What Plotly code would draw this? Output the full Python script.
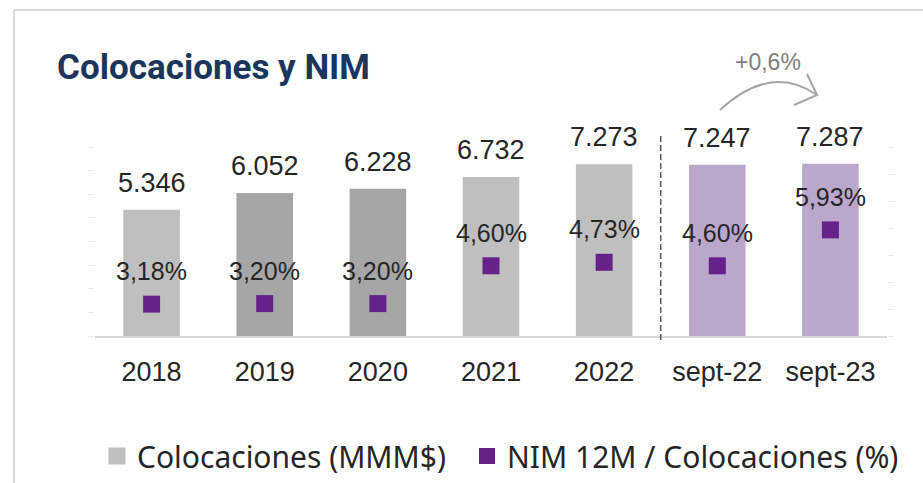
import plotly.graph_objects as go

# ---------------- data ----------------
categories = ["2018", "2019", "2020", "2021", "2022", "sept-22", "sept-23"]
colocaciones = [5346, 6052, 6228, 6732, 7273, 7247, 7287]
colocaciones_labels = ["5.346", "6.052", "6.228", "6.732", "7.273", "7.247", "7.287"]
nim = [3.18, 3.20, 3.20, 4.60, 4.73, 4.60, 5.93]
nim_labels = ["3,18%", "3,20%", "3,20%", "4,60%", "4,73%", "4,60%", "5,93%"]
bar_colors = ["#BFBFBF", "#A6A6A6", "#A6A6A6", "#BFBFBF", "#BFBFBF", "#BCA7CC", "#BCA7CC"]
growth_label = "+0,6%"

# ---------------- geometry helpers (pixels -> paper) ----------------
W, H = 923, 483
L, R, T, B = 95, 36, 147, 147
PW, PH = W - L - R, H - T - B


def px(x):
    return (x - L) / PW


def py(y):
    return (H - B - y) / PH


NUM_FONT = "Liberation Sans, Arial, sans-serif"
TXT = "#262626"
LEG_FONT = dict(family="Noto Sans, sans-serif", size=30, color=TXT)

fig = go.Figure()
fig.add_trace(go.Bar(
    x=categories, y=colocaciones, name="Colocaciones (MMM$)",
    marker=dict(color=bar_colors, line=dict(width=0)),
    yaxis="y", showlegend=False,
))
# legend entry for the bars (larger swatch)
fig.add_trace(go.Bar(
    x=[categories[0]], y=[None], name="Colocaciones (MMM$)",
    marker=dict(color=bar_colors[0], line=dict(width=5, color=bar_colors[0])),
    yaxis="y", showlegend=True, legend="legend",
))
fig.add_trace(go.Scatter(
    x=categories, y=nim, name="NIM 12M / Colocaciones (%)",
    mode="markers", marker=dict(symbol="square", size=17, color="#66228A"),
    yaxis="y2", legend="legend2",
))

annotations = []
for i, (v, t) in enumerate(zip(colocaciones, colocaciones_labels)):
    annotations.append(dict(x=i, y=v, xref="x", yref="y", text=t, showarrow=False,
                            yanchor="middle", yshift=27,
                            font=dict(family=NUM_FONT, size=27, color=TXT)))
for i, (v, t) in enumerate(zip(nim, nim_labels)):
    annotations.append(dict(x=i, y=v, xref="x", yref="y2", text=t, showarrow=False,
                            yanchor="middle", yshift=33,
                            font=dict(family=NUM_FONT, size=25, color=TXT)))
# title
annotations.append(dict(x=px(55), y=py(67), xref="paper", yref="paper",
                        text="<b>Colocaciones y NIM</b>", showarrow=False,
                        xanchor="left", yanchor="middle",
                        font=dict(family="Roboto, sans-serif", size=35, color="#1B365D")))
# growth label
annotations.append(dict(x=px(768), y=py(62), xref="paper", yref="paper",
                        text=growth_label, showarrow=False,
                        xanchor="center", yanchor="middle",
                        font=dict(family=NUM_FONT, size=23, color="#7F7F7F")))

shapes = [
    # frame
    dict(type="line", xref="paper", yref="paper", x0=px(14), x1=px(14), y0=py(10), y1=py(483),
         line=dict(color="#DADADA", width=2)),
    dict(type="line", xref="paper", yref="paper", x0=px(14), x1=px(923), y0=py(10), y1=py(10),
         line=dict(color="#DADADA", width=2)),
    # separator
    dict(type="line", xref="x", yref="paper", x0=4.5, x1=4.5, y0=py(340), y1=py(135),
         line=dict(color="#595959", width=1.5, dash="6px,3px")),
    # arc arrow
    dict(type="path", xref="paper", yref="paper",
         path=f"M{px(720)},{py(110)} Q{px(771)},{py(63)} {px(817)},{py(95)}",
         line=dict(color="#A6A6A6", width=2)),
    dict(type="path", xref="paper", yref="paper",
         path=f"M{px(807)},{py(74)} L{px(817)},{py(95)} L{px(794)},{py(105)}",
         line=dict(color="#A6A6A6", width=2)),
]

fig.update_layout(
    width=W, height=H,
    margin=dict(l=L, r=R, t=T, b=B, pad=0, autoexpand=False),
    plot_bgcolor="white", paper_bgcolor="white",
    bargap=0.5, barmode="overlay",
    showlegend=True,
    legend=dict(orientation="h", x=px(97), y=py(456), xanchor="left", yanchor="middle",
                font=LEG_FONT, bgcolor="rgba(0,0,0,0)"),
    legend2=dict(orientation="h", x=px(467), y=py(456), xanchor="left", yanchor="middle",
                 font=LEG_FONT, bgcolor="rgba(0,0,0,0)"),
    xaxis=dict(type="category", range=[-0.5, 6.5], autorange=False,
               showline=True, linecolor="#D9D9D9", linewidth=1.5, ticks="",
               tickfont=dict(family=NUM_FONT, size=27, color=TXT),
               ticklabelstandoff=11, showgrid=False, zeroline=False),
    yaxis=dict(range=[0, 8000], dtick=1000, showticklabels=False, showgrid=False,
               zeroline=False, ticks="outside", ticklen=6, tickcolor="#EBEBEB"),
    yaxis2=dict(range=[2, 9], dtick=1, overlaying="y", side="right", showticklabels=False,
                showgrid=False, zeroline=False, ticks="outside", ticklen=6, tickcolor="#EBEBEB"),
    annotations=annotations,
    shapes=shapes,
)

fig.write_html("out.html", config={"displayModeBar": False},
               post_script="document.body.style.margin='0px';")
